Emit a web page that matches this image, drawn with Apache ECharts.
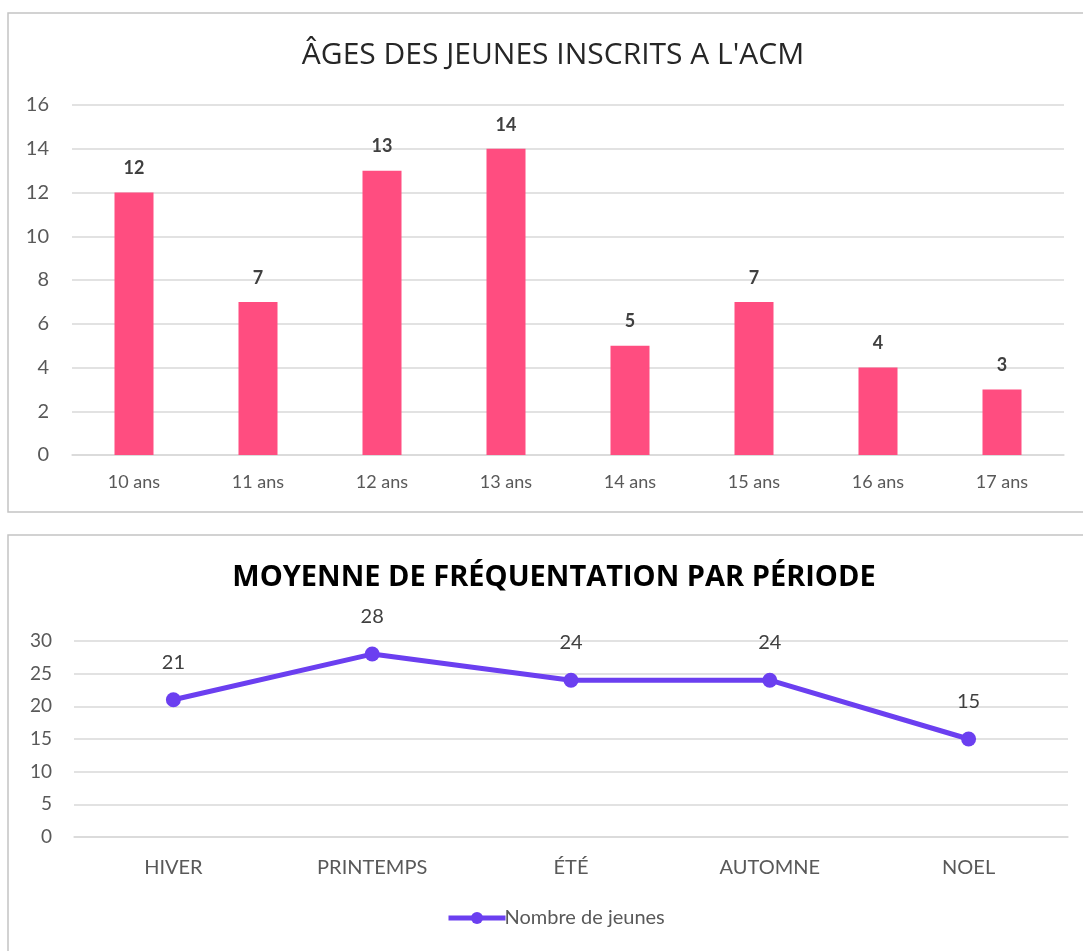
<!DOCTYPE html>
<html>
<head>
<meta charset="utf-8">
<script src="https://cdn.jsdelivr.net/npm/echarts@6/dist/echarts.min.js"></script>
<style>
html,body{margin:0;padding:0;background:#fff;}
#c{width:1083px;height:951px;}
</style>
</head>
<body>
<div id="c"></div>
<script>
const ageCategories = ['10 ans','11 ans','12 ans','13 ans','14 ans','15 ans','16 ans','17 ans'];
const ageValues = [12, 7, 13, 14, 5, 7, 4, 3];
const periodCategories = ['HIVER','PRINTEMPS','ÉTÉ','AUTOMNE','NOEL'];
const periodValues = [21, 28, 24, 24, 15];
const topTitle = "ÂGES DES JEUNES INSCRITS A L'ACM";
const bottomTitle = 'MOYENNE DE FRÉQUENTATION PAR PÉRIODE';
const seriesName = 'Nombre de jeunes';

const FONT = 'Lato';
const TFONT = 'Open Sans';
const chart = echarts.init(document.getElementById('c'), null, {renderer:'canvas'});
const gridLine = {lineStyle:{color:'#d9d9d9', width:1.5}};
chart.setOption({
  animation:false,
  textStyle:{fontFamily:FONT},
  graphic:[
    {type:'rect', shape:{x:8, y:13, width:1090, height:499}, style:{fill:'none', stroke:'#c4c4c4', lineWidth:1.5}, z:-1},
    {type:'rect', shape:{x:8, y:535, width:1090, height:430}, style:{fill:'none', stroke:'#c4c4c4', lineWidth:1.5}, z:-1}
  ],
  title:[
    {text:topTitle, left:548, top:50, textAlign:'center', textVerticalAlign:'middle',
     textStyle:{fontFamily:TFONT, fontSize:30, fontWeight:'normal', color:'#262626'}},
    {text:bottomTitle, left:549, top:573, textAlign:'center', textVerticalAlign:'middle',
     textStyle:{fontFamily:TFONT, fontSize:29, fontWeight:'bold', color:'#000'}}
  ],
  legend:{
    data:[seriesName], left:441, top:903, itemWidth:57, itemHeight:15, itemGap:0,
    lineStyle:{width:5},
    textStyle:{fontFamily:FONT, fontSize:20, color:'#595959', padding:[0,0,0,-6]}
  },
  grid:[
    {left:72, top:105, width:992, height:350, containLabel:false},
    {left:74, top:641, width:994, height:196, containLabel:false}
  ],
  xAxis:[
    {type:'category', gridIndex:0, data:ageCategories,
     axisLine:gridLine, axisTick:{show:false},
     axisLabel:{fontFamily:FONT, fontSize:18, color:'#595959', margin:18}},
    {type:'category', gridIndex:1, data:periodCategories,
     axisLine:gridLine, axisTick:{show:false},
     axisLabel:{fontFamily:FONT, fontSize:20, color:'#595959', margin:21}}
  ],
  yAxis:[
    {type:'value', gridIndex:0, min:0, max:16, interval:2,
     axisLine:{show:false}, axisTick:{show:false}, splitLine:gridLine,
     axisLabel:{fontFamily:FONT, fontSize:20, color:'#595959', margin:23}},
    {type:'value', gridIndex:1, min:0, max:30, interval:5,
     axisLine:{show:false}, axisTick:{show:false}, splitLine:gridLine,
     axisLabel:{fontFamily:FONT, fontSize:19, color:'#595959', margin:22}}
  ],
  series:[
    {type:'bar', xAxisIndex:0, yAxisIndex:0, data:ageValues, barWidth:39,
     itemStyle:{color:'#FF4D80'},
     label:{show:true, position:'top', distance:15, fontFamily:FONT, fontSize:18, fontWeight:'bold', color:'#404040'}},
    {type:'line', name:seriesName, xAxisIndex:1, yAxisIndex:1, data:periodValues,
     lineStyle:{color:'#6B3FF0', width:5}, itemStyle:{color:'#6B3FF0'},
     symbol:'circle', symbolSize:15,
     label:{show:true, position:'top', distance:20, fontFamily:FONT, fontSize:20, color:'#404040'}}
  ]
});
</script>
</body>
</html>
